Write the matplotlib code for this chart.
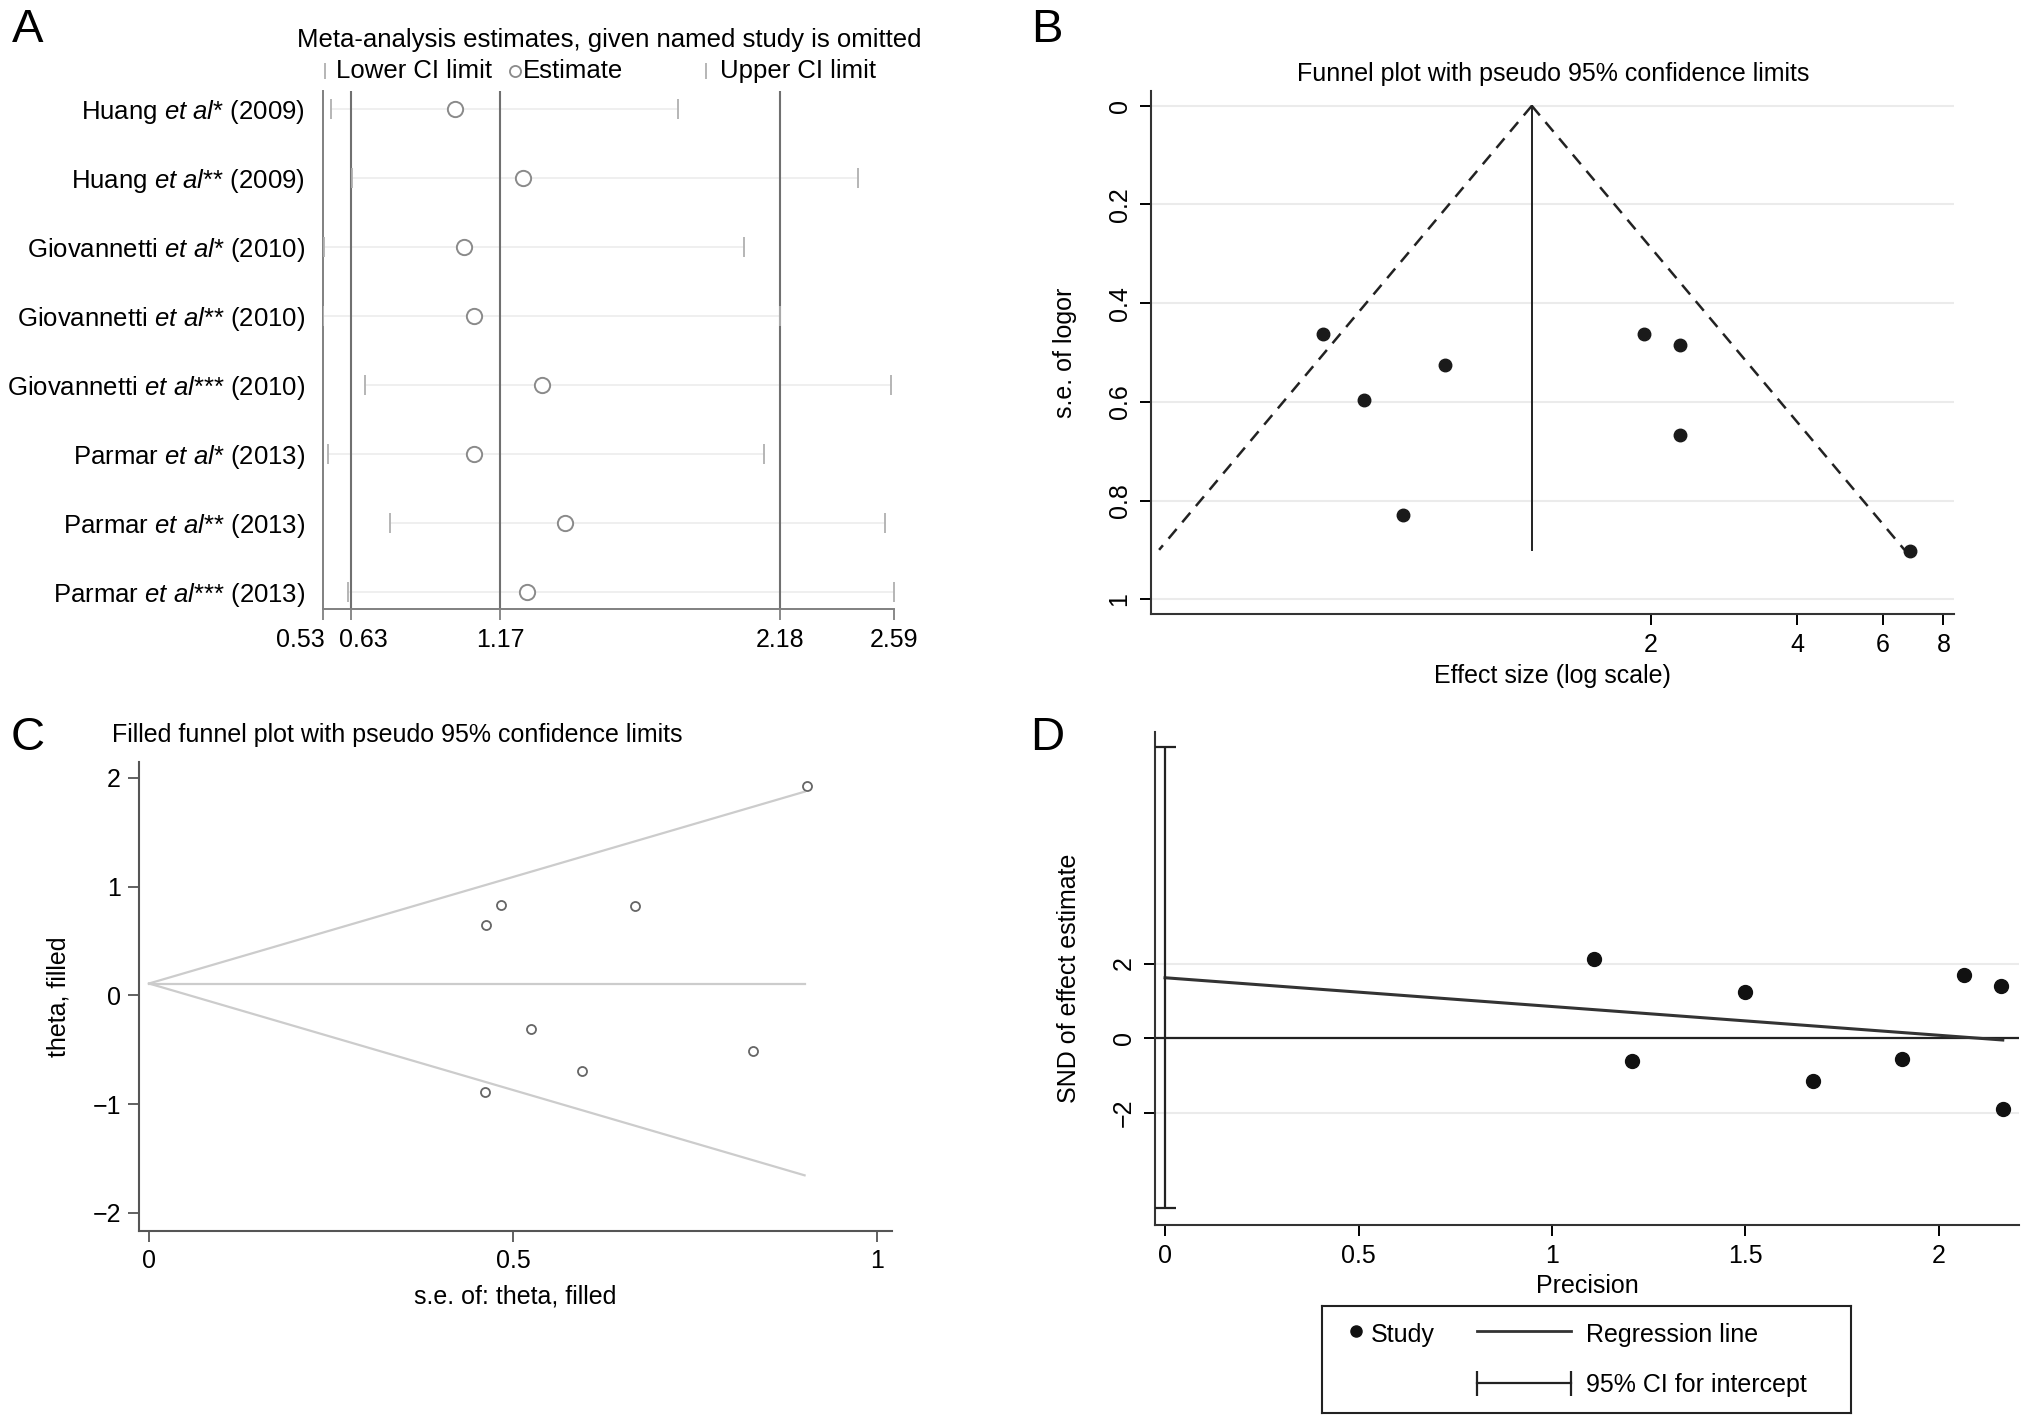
import numpy as np
import matplotlib.pyplot as plt
from matplotlib.lines import Line2D
from matplotlib.transforms import offset_copy

plt.rcParams['font.family'] = ['Liberation Sans', 'DejaVu Sans']
plt.rcParams['mathtext.fontset'] = 'custom'
plt.rcParams['mathtext.rm'] = 'Liberation Sans'
plt.rcParams['mathtext.it'] = 'Liberation Sans:italic'
plt.rcParams['font.size'] = 18

W, H = 2032, 1426

# --- A: influence analysis (study omitted) ---
authors = ['Huang', 'Huang', 'Giovannetti', 'Giovannetti', 'Giovannetti',
           'Parmar', 'Parmar', 'Parmar']
stars = ['*', '**', '*', '**', '***', '*', '**', '***']
years = [2009, 2009, 2010, 2010, 2010, 2013, 2013, 2013]
lower_ci = [0.56, 0.633, 0.535, 0.53, 0.68, 0.548, 0.773, 0.619]
estimate = [1.005, 1.25, 1.04, 1.076, 1.32, 1.076, 1.404, 1.266]
upper_ci = [1.81, 2.46, 2.05, 2.18, 2.58, 2.12, 2.557, 2.59]
a_ticks = [0.53, 0.63, 1.17, 2.18, 2.59]
a_reflines = [0.63, 1.17, 2.18]

# --- B: funnel plot ---
b_or = [0.425, 0.516, 0.755, 0.62, 1.94, 2.30, 2.30, 6.82]
b_se = [0.462, 0.597, 0.525, 0.829, 0.462, 0.484, 0.668, 0.903]
b_pooled = 1.14
b_se_max = 0.9

# --- C: filled funnel plot ---
c_se = [0.903, 0.462, 0.483, 0.667, 0.524, 0.595, 0.461, 0.829]
c_theta = [1.927, 0.649, 0.828, 0.824, -0.309, -0.695, -0.889, -0.511]
c_pooled = 0.11
c_se_max = 0.9

# --- D: Egger test ---
d_precision = [1.109, 1.206, 1.498, 1.675, 1.905, 2.066, 2.16, 2.165]
d_snd = [2.135, -0.60, 1.227, -1.141, -0.564, 1.706, 1.411, -1.89]
d_intercept = 1.62
d_slope = -0.77
d_ci = [-4.55, 7.79]


def box(x0, y0, x1, y1):
    # pixel box (top-left origin) -> figure fraction rect
    return [x0 / W, 1 - y1 / H, (x1 - x0) / W, (y1 - y0) / H]


fig = plt.figure(figsize=(W / 100, H / 100), dpi=100)

# panel letters
for letter, x, y in [('A', 28, 30), ('B', 1047, 30), ('C', 28, 738), ('D', 1047, 738)]:
    fig.text(x / W, 1 - y / H, letter, fontsize=34, ha='center', va='center')

# ================= A =================
axA = fig.add_axes(box(323, 91, 894, 609))
rows = np.arange(1, len(authors) + 1)
for lo, hi, r in zip(lower_ci, upper_ci, rows):
    axA.plot([lo, hi], [r, r], color='#ececec', lw=1.2, zorder=1)
for v in a_reflines:
    axA.axvline(v, color='#707070', lw=1.5, zorder=2)
axA.plot(lower_ci, rows, ls='none', marker='|', ms=14, mew=1.3, color='#b0b0b0', zorder=3)
axA.plot(upper_ci, rows, ls='none', marker='|', ms=14, mew=1.3, color='#b0b0b0', zorder=3)
axA.plot(estimate, rows, ls='none', marker='o', ms=11, mfc='white', mec='#8a8a8a', mew=1.4, zorder=4)
axA.set_xlim(a_ticks[0], a_ticks[-1])
axA.set_ylim(8.25, 0.74)
labels = [r'%s $\mathit{et\ al}$%s (%d)' % (a, s, y) for a, s, y in zip(authors, stars, years)]
axA.set_yticks(rows)
axA.set_yticklabels(labels, fontsize=18.5)
axA.set_xticks(a_ticks)
axA.set_xticklabels(['%.2f' % t for t in a_ticks])
axA.tick_params(axis='y', length=0, pad=13)
axA.tick_params(axis='x', length=8, width=1.3, color='#808080', pad=6)
xt = axA.get_xticklabels()
xt[0].set_ha('right')
xt[0].set_transform(offset_copy(xt[0].get_transform(), fig=fig, x=2, units='dots'))
xt[1].set_transform(offset_copy(xt[1].get_transform(), fig=fig, x=13, units='dots'))
for s in ['top', 'right']:
    axA.spines[s].set_visible(False)
axA.spines['left'].set_color('#808080')
axA.spines['bottom'].set_color('#808080')
axA.spines['left'].set_linewidth(1.4)
axA.spines['bottom'].set_linewidth(1.4)

fig.text(609 / W, 1 - 40 / H, 'Meta-analysis estimates, given named study is omitted',
         ha='center', va='center', fontsize=18.5)
ly = 1 - 71 / H
for mx, tx, mk, txt in [(325, 336, '|', 'Lower CI limit'), (515, 523, 'o', 'Estimate'),
                        (706, 720, '|', 'Upper CI limit')]:
    if mk == 'o':
        fig.add_artist(Line2D([mx / W], [ly], marker='o', ms=8, mfc='white', mec='#8a8a8a', mew=1.3))
    else:
        fig.add_artist(Line2D([mx / W], [ly], marker='|', ms=12, mew=1.3, color='#b0b0b0'))
    fig.text(tx / W, ly, txt, ha='left', va='center', fontsize=18.5)

# ================= B =================
axB = fig.add_axes(box(1151, 91, 1954, 614))
se_line = np.array([0, b_se_max])
axB.plot(b_pooled * np.exp(-1.96 * se_line), se_line, color='#222', lw=1.8, ls=(0, (5, 3.5)))
axB.plot(b_pooled * np.exp(1.96 * se_line), se_line, color='#222', lw=1.8, ls=(0, (5, 3.5)))
axB.plot([b_pooled, b_pooled], se_line, color='#222', lw=1.4)
axB.plot(b_or, b_se, ls='none', marker='o', ms=9, color='#1a1a1a')
axB.set_xscale('log')
axB.set_xlim(0.188, 8.41)
axB.set_ylim(1.03, -0.03)
axB.set_xticks([2, 4, 6, 8])
axB.set_xticklabels(['2', '4', '6', '8'])
axB.xaxis.set_minor_locator(plt.NullLocator())
axB.set_yticks([0, 0.2, 0.4, 0.6, 0.8, 1])
axB.set_yticklabels(['0', '0.2', '0.4', '0.6', '0.8', '1'], rotation=90, va='center')
axB.yaxis.grid(True, color='#ebebeb', lw=1.5)
axB.set_axisbelow(True)
axB.tick_params(length=8, width=1.4, pad=6)
for s in ['top', 'right']:
    axB.spines[s].set_visible(False)
for s in ['left', 'bottom']:
    axB.spines[s].set_linewidth(1.5)
    axB.spines[s].set_color('#333')
axB.set_xlabel('Effect size (log scale)', labelpad=5)
axB.set_ylabel('s.e. of logor', labelpad=22)
fig.text(1553 / W, 1 - 74 / H, 'Funnel plot with pseudo 95% confidence limits', ha='center', va='center')

# ================= C =================
axC = fig.add_axes(box(139, 762, 892, 1231))
se_c = np.array([0, c_se_max])
axC.plot(se_c, c_pooled + 1.96 * se_c, color='#cccccc', lw=1.6)
axC.plot(se_c, c_pooled - 1.96 * se_c, color='#cccccc', lw=1.6)
axC.plot(se_c, [c_pooled, c_pooled], color='#cccccc', lw=1.6)
axC.plot(c_se, c_theta, ls='none', marker='o', ms=6.5, mfc='white', mec='#666', mew=1.3)
axC.set_xlim(-0.0137, 1.02)
axC.set_ylim(-2.166, 2.147)
axC.set_xticks([0, 0.5, 1])
axC.set_xticklabels(['0', '0.5', '1'])
axC.set_yticks([-2, -1, 0, 1, 2])
axC.set_yticklabels(['\u22122', '\u22121', '0', '1', '2'])
axC.tick_params(length=8, width=1.3, color='#555', pad=5)
for s in ['top', 'right']:
    axC.spines[s].set_visible(False)
for s in ['left', 'bottom']:
    axC.spines[s].set_linewidth(1.5)
    axC.spines[s].set_color('#555')
axC.set_xlabel('s.e. of: theta, filled', labelpad=8)
axC.set_ylabel('theta, filled', labelpad=16)
fig.text(397 / W, 1 - 735 / H, 'Filled funnel plot with pseudo 95% confidence limits',
         ha='center', va='center')

# ================= D =================
axD = fig.add_axes(box(1155, 732, 2019, 1225))
axD.axhline(0, color='#222', lw=1.6, zorder=2)
xr = np.array([0, max(d_precision)])
axD.plot(xr, d_intercept + d_slope * xr, color='#333', lw=2.2, zorder=3)
axD.errorbar([0], [d_intercept], yerr=[[d_intercept - d_ci[0]], [d_ci[1] - d_intercept]],
             fmt='none', ecolor='#222', elinewidth=1.6, capsize=8, capthick=1.6, zorder=3)
axD.plot(d_precision, d_snd, ls='none', marker='o', ms=10, color='#111', zorder=4)
axD.set_xlim(-0.026, 2.207)
axD.set_ylim(-5.0, 8.2)
axD.set_xticks([0, 0.5, 1, 1.5, 2])
axD.set_xticklabels(['0', '0.5', '1', '1.5', '2'])
axD.set_yticks([-2, 0, 2])
axD.set_yticklabels(['\u22122', '0', '2'], rotation=90, va='center')
axD.yaxis.grid(True, color='#ebebeb', lw=1.5)
axD.set_axisbelow(True)
axD.tick_params(length=8, width=1.4, pad=6)
for s in ['top', 'right']:
    axD.spines[s].set_visible(False)
for s in ['left', 'bottom']:
    axD.spines[s].set_linewidth(1.5)
    axD.spines[s].set_color('#333')
axD.set_xlabel('Precision', labelpad=4)
axD.set_ylabel('SND of effect estimate', labelpad=22)

# legend box for D
axL = fig.add_axes(box(1322, 1306, 1851, 1413))
axL.set_xlim(1322, 1851)
axL.set_ylim(1413, 1306)
axL.set_xticks([])
axL.set_yticks([])
for s in axL.spines.values():
    s.set_linewidth(1.5)
    s.set_color('#222')
axL.plot([1356], [1331], marker='o', ms=8, color='#111')
axL.text(1371, 1335, 'Study', va='center')
axL.plot([1477, 1571], [1331, 1331], color='#333', lw=2)
axL.text(1586, 1335, 'Regression line', va='center')
axL.plot([1477, 1571], [1383, 1383], color='#222', lw=1.6)
axL.plot([1477, 1571], [1383, 1383], ls='none', marker='|', ms=18, mew=1.6, color='#222')
axL.text(1586, 1385, '95% CI for intercept', va='center')

fig.savefig('out.png', dpi=100)
